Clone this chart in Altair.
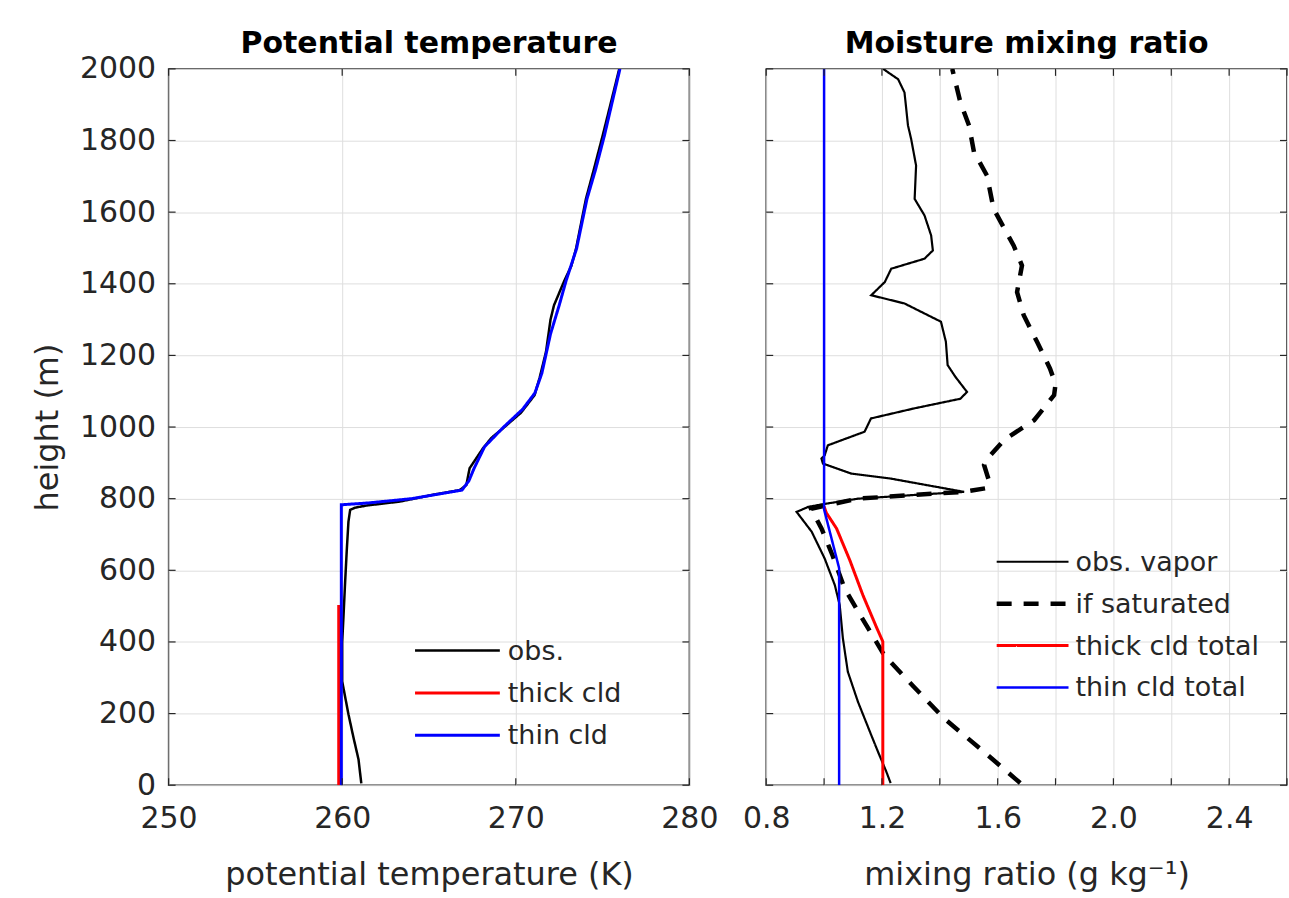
import altair as alt
import pandas as pd

FONT = "DejaVu Sans"
TXT = "#262626"
GRID = "#dedede"

# ---------------- Left panel: potential temperature (K) vs height (m) ----------------
obs_theta = [261.1, 260.94, 260.65, 260.36, 260.07, 260.0, 260.0, 260.07, 260.17, 260.27,
             260.36, 260.46, 260.75, 261.42, 263.33, 265.24, 266.77, 267.15, 267.34, 268.1,
             268.6, 269.25, 270.3, 271.08, 271.37, 271.74, 272.0, 272.2, 272.8, 273.2,
             273.47, 274.04, 274.5, 275.0, 275.5, 275.96]
obs_theta_z = [5, 72, 133, 198, 272, 290, 400, 467, 569, 662,
               736, 769, 775, 781, 792, 811, 824, 838, 885, 940,
               970, 996, 1040, 1089, 1137, 1210, 1300, 1340, 1409, 1450,
               1498, 1637, 1720, 1813, 1910, 2000]

thick_theta = [259.8, 259.8]
thick_theta_z = [0, 503]

thin_theta = [259.95, 259.95, 261.5, 264.0, 266.9, 267.3, 267.6, 268.2, 269.3, 270.4,
              271.1, 271.5, 272.0, 272.5, 272.9, 273.5, 274.1, 274.6, 275.1, 276.0]
thin_theta_z = [0, 783, 788, 800, 824, 850, 885, 945, 1000, 1050,
                1095, 1150, 1260, 1340, 1409, 1498, 1637, 1720, 1813, 2000]

# ---------------- Right panel: mixing ratio (g/kg) vs height (m) ----------------
vap_q = [1.23, 1.215, 1.186, 1.163, 1.117, 1.082, 1.065, 1.054, 1.037, 1.002,
         0.957, 0.905, 0.945, 0.991, 1.117, 1.381, 1.484, 1.231, 1.094, 0.996,
         0.991, 1.002, 1.013, 1.14, 1.162, 1.311, 1.471, 1.494, 1.454, 1.427,
         1.421, 1.404, 1.278, 1.163, 1.21, 1.232, 1.347, 1.376, 1.37, 1.347,
         1.313, 1.318, 1.301, 1.29, 1.278, 1.256, 1.204]
vap_z = [6, 38, 94, 140, 233, 317, 410, 503, 559, 633,
         708, 763, 777, 784, 800, 814, 819, 856, 870, 898,
         912, 921, 949, 987, 1024, 1052, 1079, 1098, 1140, 1173,
         1238, 1294, 1345, 1368, 1405, 1442, 1470, 1493, 1535, 1591,
         1637, 1730, 1804, 1842, 1934, 1971, 2000]

sat_q = [1.678, 1.55, 1.414, 1.31, 1.208, 1.139, 1.071, 1.03, 0.991, 0.955,
         1.117, 1.381, 1.484, 1.565, 1.57, 1.553, 1.576, 1.622, 1.726, 1.795,
         1.80, 1.781, 1.736, 1.69, 1.667, 1.684, 1.655, 1.586, 1.563, 1.518,
         1.501, 1.471, 1.443]
sat_z = [6, 95, 187, 275, 363, 456, 549, 640, 717, 772,
         800, 814, 819, 830, 850, 894, 922, 964, 1019, 1089,
         1120, 1163, 1238, 1312, 1377, 1451, 1507, 1609, 1702, 1768,
         1842, 1907, 2000]

thickq = [1.203, 1.203, 1.18, 1.134, 1.089, 1.043, 1.008, 1.0]
thickq_z = [0, 401, 443, 531, 628, 717, 760, 778]

thinq = [1.052, 1.052, 1.0, 1.0]
thinq_z = [0, 606, 770, 2000]

# ---------------- ticks ----------------
theta_ticks = [250, 260, 270, 280]
q_ticks = [0.8, 1.0, 1.2, 1.4, 1.6, 1.8, 2.0, 2.2, 2.4, 2.6]
q_labels = ["0.8", "1.2", "1.6", "2.0", "2.4"]
z_ticks = [0, 200, 400, 600, 800, 1000, 1200, 1400, 1600, 1800, 2000]

W, H = 522, 718
TICK = 7


def sdf(name, xs, zs):
    return pd.DataFrame({"s": name, "x": xs, "z": zs, "i": list(range(len(xs)))})


left_names = ["obs.", "thick cld", "thin cld"]
left_df = pd.concat([sdf("obs.", obs_theta, obs_theta_z),
                     sdf("thick cld", thick_theta, thick_theta_z),
                     sdf("thin cld", thin_theta, thin_theta_z)])

right_names = ["obs. vapor", "if saturated", "thick cld total", "thin cld total"]
right_df = pd.concat([sdf("obs. vapor", vap_q, vap_z),
                      sdf("if saturated", sat_q, sat_z),
                      sdf("thick cld total", thickq, thickq_z),
                      sdf("thin cld total", thinq, thinq_z)])


def panel(df, names, colors, dashes, widths, xdomain, xticks, xaxis, yaxis, title,
          title_offset, line_start, line_len, label_start, first_center, row_step):
    xs = alt.Scale(domain=xdomain, nice=False, zero=False)
    ys = alt.Scale(domain=[0, 2000], nice=False, zero=False)
    layers = []
    for n, c, d, w in zip(names, colors, dashes, widths):
        layers.append(
            alt.Chart(df).transform_filter(alt.datum.s == n)
            .mark_line(clip=True, color=c, strokeDash=d, strokeWidth=w)
            .encode(
                x=alt.X("x:Q", scale=xs, axis=xaxis),
                y=alt.Y("z:Q", scale=ys, axis=yaxis),
                order=alt.Order("i:Q"),
            )
        )
    zdf = pd.DataFrame({"v": z_ticks})
    xdf = pd.DataFrame({"v": xticks})
    tk = dict(color=TXT, strokeWidth=1.2)
    layers += [
        alt.Chart(zdf).mark_rule(**tk).encode(y=alt.Y("v:Q", scale=ys, axis=yaxis),
                                              x=alt.value(0), x2=alt.value(TICK)),
        alt.Chart(zdf).mark_rule(**tk).encode(y=alt.Y("v:Q", scale=ys, axis=yaxis),
                                              x=alt.value(W - TICK), x2=alt.value(W)),
        alt.Chart(xdf).mark_rule(**tk).encode(x=alt.X("v:Q", scale=xs, axis=xaxis),
                                              y=alt.value(H - TICK), y2=alt.value(H)),
        alt.Chart(xdf).mark_rule(**tk).encode(x=alt.X("v:Q", scale=xs, axis=xaxis),
                                              y=alt.value(0), y2=alt.value(TICK)),
    ]
    # legend (inside the plot area, lower right)
    for k, (n, c, d, w) in enumerate(zip(names, colors, dashes, widths)):
        ypix = first_center + k * row_step
        ldf = pd.DataFrame({"s": [n]})
        layers.append(
            alt.Chart(ldf).mark_rule(color=c, strokeDash=d, strokeWidth=w).encode(
                x=alt.value(line_start), x2=alt.value(line_start + line_len), y=alt.value(ypix))
        )
        layers.append(
            alt.Chart(ldf).mark_text(align="left", baseline="middle", font=FONT, fontSize=27,
                                     color=TXT, dy=1).encode(
                x=alt.value(label_start), y=alt.value(ypix), text="s:N")
        )
    return alt.layer(*layers).properties(
        width=W, height=H,
        title=alt.TitleParams(title, font=FONT, fontSize=30, fontWeight="bold",
                              color="black", offset=title_offset, frame="group"),
    )


common_axis = dict(grid=True, gridColor=GRID, gridWidth=1, ticks=False, domain=False,
                   labelFlush=False,
                   labelFont=FONT, labelFontSize=30, labelColor=TXT,
                   titleFont=FONT, titleFontSize=32, titleColor=TXT, titleFontWeight="normal")

left_x = alt.Axis(values=theta_ticks, format="d", title="potential temperature (K)",
                  labelPadding=18, titlePadding=27, **common_axis)
left_y = alt.Axis(values=z_ticks, format="d", title="height (m)",
                  labelPadding=13, titlePadding=15, **common_axis)

label_list = "[" + ",".join("'" + s + "'" for s in q_labels) + "]"
right_x = alt.Axis(values=q_ticks, title="mixing ratio (g kg⁻¹)",
                   labelExpr="indexof(" + label_list + ", format(datum.value, '.1f')) >= 0 ? format(datum.value, '.1f') : ''",
                   labelPadding=18, titlePadding=27, **common_axis)
right_y = alt.Axis(values=z_ticks, labels=False, title=None, **common_axis)

# legend geometry (pixels relative to each plot area)
left = panel(left_df, left_names, ["black", "red", "blue"],
             [[1, 0], [1, 0], [1, 0]], [2.5, 3, 3],
             [250, 280], theta_ticks, left_x, left_y, "Potential temperature", -5,
             247, 85, 340, 583, 42.5)

right = panel(right_df, right_names, ["black", "black", "red", "blue"],
              [[1, 0], [15, 12], [1, 0], [1, 0]], [2.2, 4.5, 3, 2.5],
              [0.8, 2.6], q_ticks, right_x, right_y, "Moisture mixing ratio", 9,
              231, 72, 310, 494, 42)

chart = alt.hconcat(left, right, spacing=77, bounds="flush").properties(
    padding={"left": 30, "top": 27, "right": 0, "bottom": 0},
    background="white",
).configure_view(stroke=TXT, strokeWidth=1.5)

chart.save("out.html", embed_options={"renderer": "svg", "actions": False})
